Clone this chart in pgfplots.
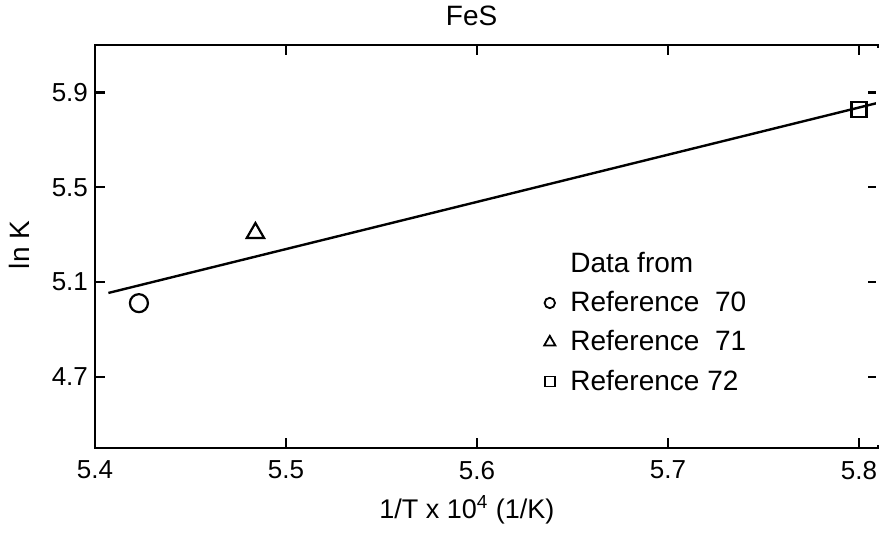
\documentclass[border=0pt]{standalone}
\usepackage{fontspec}
\setmainfont{Liberation Sans}
\usepackage{pgfplots}
\pgfplotsset{compat=1.18}
\begin{document}
\begin{tikzpicture}
\useasboundingbox (-47.5pt,-43.5pt) rectangle (394pt,224pt);
\begin{axis}[
  at={(0,0)}, anchor=south west,
  scale only axis, width=391.5pt, height=201.5pt,
  xmin=5.4, xmax=5.81, ymin=4.4, ymax=6.1,
  xtick={5.4,5.5,5.6,5.7,5.8},
  ytick={4.7,5.1,5.5,5.9},
  xticklabels={5.4,5.5,5.6,5.7,5.8},
  yticklabels={4.7,5.1,5.5,5.9},
  /pgf/number format/assume math mode=true,
  tick align=inside, major tick length=5pt,
  xtick pos=both, ytick pos=both,
  axis line style={line width=1.2pt},
  every tick/.style={black, line width=1.2pt},
  tick label style={font=\fontsize{13}{15}\selectfont},
  xticklabel style={yshift=-3pt},
  title={FeS},
  title style={at={(axis description cs:0.481,1.042)}, anchor=center, font=\fontsize{14}{16}\selectfont, inner sep=0pt},
  xlabel={1/T x 10\textsuperscript{4} (1/K)},
  xlabel style={at={(axis description cs:0.475,-0.154)}, anchor=center, font=\fontsize{13.5}{16}\selectfont, inner sep=0pt},
  ylabel={ln K},
  ylabel style={at={(axis description cs:-0.096,0.504)}, anchor=center, font=\fontsize{14}{16}\selectfont, inner sep=0pt},
  legend cell align=left,
  legend style={draw=none, fill=none, at={(axis cs:5.629,5.245)}, anchor=north west,
    font=\fontsize{14}{16}\selectfont, row sep=4pt, column sep=5.5pt, inner sep=0pt},
  clip=false,
  after end axis/.code={\draw[white, line width=2pt] ([yshift=-1.5pt]rel axis cs:1,1) -- ([yshift=1.5pt]rel axis cs:1,0);},
]
\addplot[black, line width=1.2pt, forget plot] coordinates {(5.407,5.054) (5.809,5.854)};
\addplot[black, only marks, mark=o, mark size=4.5pt, line width=1.1pt, forget plot] coordinates {(5.423,5.011)};
\addplot[black, only marks, mark=triangle, mark size=5pt, line width=1.1pt, forget plot] coordinates {(5.484,5.307)};
\addplot[black, only marks, mark=square, mark size=3.75pt, line width=1.1pt, forget plot, fill=white, mark options={fill=white}] coordinates {(5.800,5.828)};
\addlegendimage{empty legend}
\addlegendentry{Data from}
\addlegendimage{black, only marks, mark=o, mark size=2.6pt, line width=0.9pt}
\addlegendentry{Reference\ \ 70}
\addlegendimage{black, only marks, mark=triangle, mark size=3.2pt, line width=0.9pt}
\addlegendentry{Reference\ \ 71}
\addlegendimage{black, only marks, mark=square, mark size=2.5pt, line width=0.9pt}
\addlegendentry{Reference 72}
\end{axis}
\end{tikzpicture}
\end{document}
